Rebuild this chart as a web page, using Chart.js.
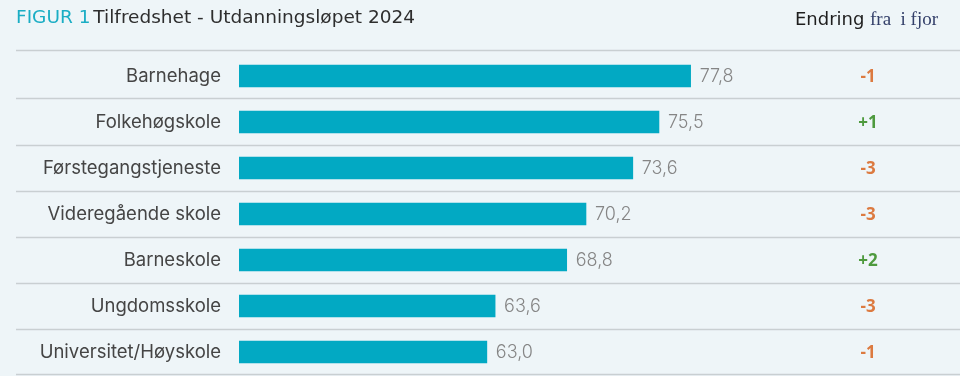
<!DOCTYPE html>
<html>
<head>
<meta charset="utf-8">
<script src="https://cdn.jsdelivr.net/npm/chart.js@4"></script>
<style>
  html, body { margin: 0; padding: 0; background: #eef5f8; }
  #wrap { width: 960px; height: 376px; }
</style>
</head>
<body>
<div id="wrap"><canvas id="tilfredshet_chart" width="960" height="376"></canvas></div>
<script>
const categories = ["Barnehage", "Folkehøgskole", "Førstegangstjeneste", "Videregående skole", "Barneskole", "Ungdomsskole", "Universitet/Høyskole"];
const scores = [77.8, 75.5, 73.6, 70.2, 68.8, 63.6, 63.0];
const changes = [-1, 1, -3, -3, 2, -3, -1];

const ctx = document.getElementById("tilfredshet_chart");

// title, header, separators and change column
const decor = {
  id: "decor",
  beforeDatasetsDraw(chart) {
    const c = chart.ctx;
    const y = chart.scales.y;
    const step = y.getPixelForValue(1) - y.getPixelForValue(0);
    c.save();
    c.strokeStyle = "#c9cfd2";
    c.lineWidth = 1.5;
    for (let i = 0; i <= categories.length; i++) {
      let yy = y.getPixelForValue(i) - step / 2;
      if (i === 0) yy = 50;
      if (i === 1) yy -= 1.5;
      yy = Math.min(yy, 374);
      c.beginPath();
      c.moveTo(16, Math.round(yy) + 0.5);
      c.lineTo(960, Math.round(yy) + 0.5);
      c.stroke();
    }
    c.restore();
  },
  afterDatasetsDraw(chart) {
    const c = chart.ctx;
    c.save();
    // title
    c.textBaseline = "middle";
    c.textAlign = "left";
    c.font = "18.5px 'DejaVu Sans'";
    c.fillStyle = "#1aadc4";
    c.fillText("FIGUR 1", 16, 18);
    const w = c.measureText("FIGUR 1 ").width;
    c.fillStyle = "#2e2e2e";
    c.fillText("Tilfredshet - Utdanningsløpet 2024", 16 + w - 3, 18);
    // header right
    c.font = "18px 'DejaVu Sans'";
    c.fillStyle = "#1e1e1e";
    c.fillText("Endring", 795, 20);
    c.font = "19px 'Liberation Serif'";
    c.fillStyle = "#34406a";
    c.fillText("fra  i fjor", 870, 20);
    // values and changes
    const meta = chart.getDatasetMeta(0);
    meta.data.forEach((bar, i) => {
      c.font = "300 18px 'Inter'";
      c.fillStyle = "#858585";
      c.textAlign = "left";
      c.fillText(scores[i].toFixed(1).replace(".", ","), bar.x + 9, bar.y + 1);
      const ch = changes[i];
      c.font = "bold 17px 'Open Sans'";
      c.fillStyle = ch < 0 ? "#dc7a40" : "#4e9a3e";
      c.textAlign = "center";
      c.fillText((ch > 0 ? "+" : "") + ch, 868, bar.y + 1);
    });
    c.restore();
  }
};

const chart = new Chart(ctx, {
  type: "bar",
  data: {
    labels: categories,
    datasets: [{
      data: scores,
      backgroundColor: "#02a9c3",
      barThickness: 22,
      borderWidth: 0
    }]
  },
  options: {
    indexAxis: "y",
    responsive: false,
    maintainAspectRatio: false,
    animation: false,
    layout: { autoPadding: false, padding: { top: 53, bottom: 1, left: 0, right: 5 } },
    plugins: {
      legend: { display: false },
      tooltip: { enabled: false }
    },
    scales: {
      x: { display: false, min: 45, max: 97 },
      y: {
        grid: { display: false },
        border: { display: false },
        afterFit(scale) {
          scale.width = 239;
          scale.paddingTop = 0;
          scale.paddingBottom = 0;
        },
        ticks: { padding: 10, color: "#454545", font: { family: "'Inter'", size: 18.5 } }
      }
    }
  },
  plugins: [decor]
});
</script>
</body>
</html>
